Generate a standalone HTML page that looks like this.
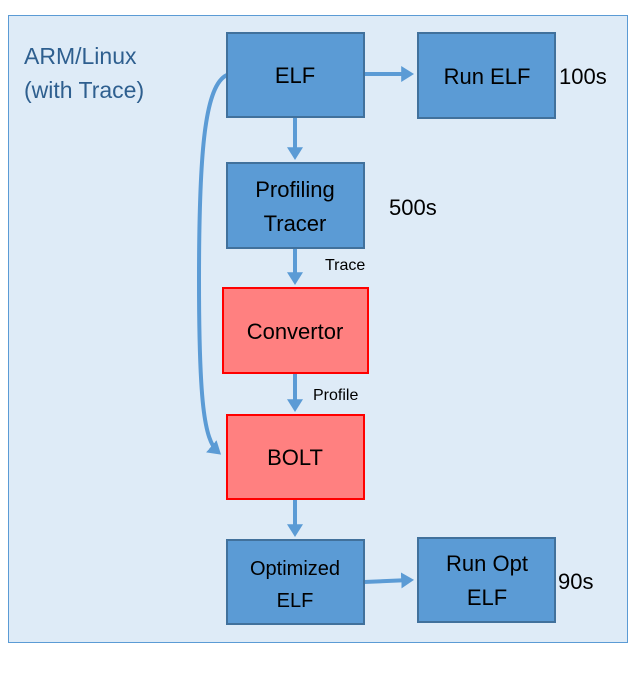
<!DOCTYPE html>
<html><head><meta charset="utf-8"><style>
html,body{margin:0;padding:0;background:#fff;width:636px;height:682px;overflow:hidden}
svg text{font-family:"Liberation Sans",sans-serif}
</style></head><body>
<svg width="636" height="682" viewBox="0 0 636 682" xmlns="http://www.w3.org/2000/svg">
<defs><marker id="a" markerWidth="4" markerHeight="4" refX="2.2" refY="2" orient="auto" markerUnits="strokeWidth"><path d="M0,0 L3.2,2 L0,4 z" fill="#5b9bd5"/></marker></defs>
<rect x="8.5" y="15.5" width="619" height="627" fill="#deebf7" stroke="#5b9bd5" stroke-width="1"/>
<text x="24" y="64" font-size="23" fill="#2e5f8f">ARM/Linux</text>
<text x="24" y="98" font-size="23" fill="#2e5f8f">(with Trace)</text>
<g stroke="#5b9bd5" stroke-width="4" fill="none">
<path d="M227,75 C205,85 199,150 199,280 C199,400 204,440 218,452" marker-end="url(#a)"/>
<line x1="364" y1="74" x2="410" y2="74" marker-end="url(#a)"/>
<line x1="364" y1="582" x2="410" y2="580" marker-end="url(#a)"/>
<line x1="295" y1="117" x2="295" y2="156" marker-end="url(#a)"/>
<line x1="295" y1="248" x2="295" y2="281" marker-end="url(#a)"/>
<line x1="295" y1="373" x2="295" y2="408" marker-end="url(#a)"/>
<line x1="295" y1="499" x2="295" y2="533" marker-end="url(#a)"/>
</g>
<g stroke="#41719c" stroke-width="2" fill="#5b9bd5">
<rect x="227" y="33" width="137" height="84"/>
<rect x="418" y="33" width="137" height="85"/>
<rect x="227" y="163" width="137" height="85"/>
<rect x="227" y="540" width="137" height="84"/>
<rect x="418" y="538" width="137" height="84"/>
</g>
<g stroke="#ff0000" stroke-width="2" fill="#ff8080">
<rect x="223" y="288" width="145" height="85"/>
<rect x="227" y="415" width="137" height="84"/>
</g>
<g font-size="22" fill="#000" text-anchor="middle">
<text x="295" y="83">ELF</text>
<text x="487" y="84">Run ELF</text>
<text x="295" y="197">Profiling</text>
<text x="295" y="231">Tracer</text>
<text x="295" y="339">Convertor</text>
<text x="295" y="465">BOLT</text>
<text x="295" y="575" font-size="20">Optimized</text>
<text x="295" y="607" font-size="20">ELF</text>
<text x="487" y="571">Run  Opt</text>
<text x="487" y="605">ELF</text>
</g>
<g font-size="22" fill="#000">
<text x="559" y="84">100s</text>
<text x="389" y="215">500s</text>
<text x="558" y="589">90s</text>
</g>
<g font-size="16" fill="#000">
<text x="325" y="270">Trace</text>
<text x="313" y="400">Profile</text>
</g>
</svg>
</body></html>
